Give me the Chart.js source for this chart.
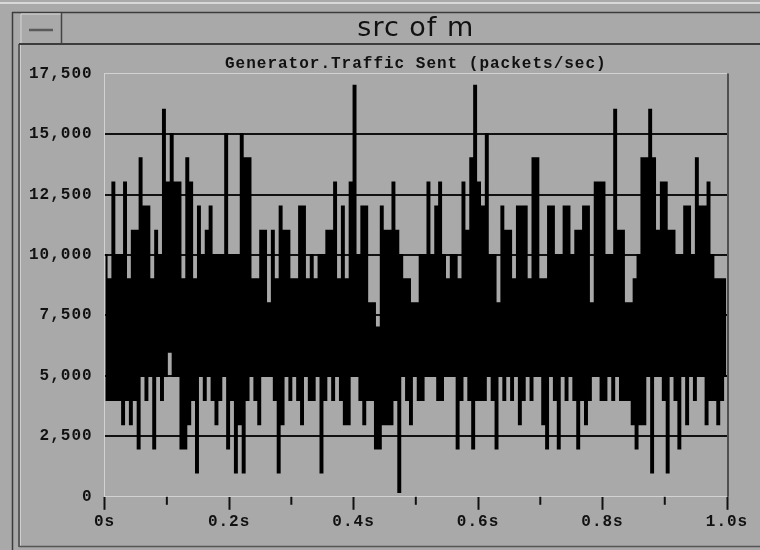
<!DOCTYPE html>
<html>
<head>
<meta charset="utf-8">
<title>src of m</title>
<script src="https://cdn.jsdelivr.net/npm/chart.js@4.4.1/dist/chart.umd.min.js"></script>
<style>
  html, body { margin: 0; padding: 0; background: #a9a9a9; }
  #wrap { width: 760px; height: 550px; }
</style>
</head>
<body>
<div id="wrap"><canvas id="trafficChart" width="760" height="550"></canvas></div>
<script>
// Generator.Traffic Sent, packets/sec
// the trace is split in 160 slots of 1/160 s: each slot has a peak then a trough
const slotSec = 1 / 160;

const highs = [
  10000, 9000, 13000, 10000, 10000, 13000, 9000, 11000, 11000, 14000,
  12000, 12000, 9000, 11000, 10000, 16000, 13000, 15000, 13000, 13000,
  9000, 14000, 13000, 9000, 12000, 10000, 11000, 12000, 10000, 10000,
  10000, 15000, 10000, 10000, 10000, 15000, 14000, 14000, 9000, 9000,
  11000, 11000, 8000, 11000, 9000, 12000, 11000, 11000, 9000, 9000,
  12000, 12000, 9000, 10000, 9000, 10000, 10000, 11000, 11000, 13000,
  9000, 12000, 9000, 13000, 17000, 10000, 12000, 12000, 8000, 8000,
  7000, 12000, 11000, 11000, 13000, 11000, 10000, 9000, 9000, 8000,
  8000, 10000, 10000, 13000, 10000, 12000, 13000, 10000, 9000, 10000,
  10000, 9000, 13000, 11000, 14000, 17000, 13000, 12000, 15000, 10000,
  10000, 8000, 12000, 11000, 11000, 9000, 12000, 12000, 12000, 9000,
  14000, 14000, 9000, 9000, 12000, 12000, 10000, 10000, 12000, 12000,
  10000, 11000, 11000, 12000, 12000, 8000, 13000, 13000, 13000, 10000,
  10000, 16000, 11000, 11000, 8000, 8000, 9000, 10000, 14000, 14000,
  16000, 14000, 11000, 13000, 13000, 11000, 11000, 10000, 10000, 12000,
  12000, 10000, 14000, 12000, 12000, 13000, 10000, 9000, 9000, 9000
];

const lows = [
  4000, 4000, 4000, 4000, 3000, 4000, 3000, 4000, 2000, 5000,
  4000, 5000, 2000, 5000, 4000, 5000, 6000, 5000, 5000, 2000,
  2000, 3000, 4000, 1000, 5000, 4000, 5000, 4000, 3000, 4000,
  5000, 2000, 4000, 1000, 3000, 1000, 4000, 5000, 4000, 3000,
  5000, 5000, 5000, 4000, 1000, 3000, 5000, 4000, 5000, 4000,
  3000, 5000, 4000, 4000, 5000, 1000, 4000, 5000, 4000, 5000,
  4000, 3000, 3000, 5000, 5000, 4000, 3000, 4000, 4000, 2000,
  2000, 3000, 3000, 3000, 4000, 200, 5000, 4000, 3000, 5000,
  4000, 4000, 5000, 5000, 5000, 4000, 4000, 5000, 5000, 5000,
  2000, 4000, 5000, 4000, 2000, 4000, 4000, 4000, 5000, 4000,
  2000, 5000, 4000, 5000, 4000, 5000, 3000, 4000, 5000, 4000,
  5000, 5000, 3000, 2000, 5000, 4000, 2000, 5000, 4000, 5000,
  4000, 2000, 4000, 3000, 4000, 5000, 5000, 4000, 4000, 5000,
  4000, 5000, 4000, 4000, 4000, 3000, 2000, 3000, 3000, 5000,
  1000, 5000, 5000, 4000, 1000, 5000, 4000, 2000, 5000, 3000,
  5000, 4000, 5000, 5000, 3000, 4000, 4000, 3000, 4000, 5000
];

const yTicks = [0, 2500, 5000, 7500, 10000, 12500, 15000, 17500];
const xMajorTicks = [0, 0.2, 0.4, 0.6, 0.8, 1.0];
const xMinorTicks = [0.1, 0.3, 0.5, 0.7, 0.9];

const points = [];
highs.forEach(function(h, k) {
    points.push({x: k * slotSec, y: h});
    points.push({x: (k + 0.5) * slotSec, y: lows[k]});
});
points.push({x: 1, y: lows[lows.length - 1]});

const INK = '#111';
const LIGHT = '#d2d2d2';

// canvas letter spacing, the old X font is wide
const spacing = {
    id: 'spacing',
    beforeLayout(chart) { chart.ctx.letterSpacing = '1px'; },
    beforeDraw(chart) { chart.ctx.letterSpacing = '1px'; }
};

function line(ctx, x1, y1, x2, y2, color, w) {
    ctx.strokeStyle = color;
    ctx.lineWidth = w;
    ctx.beginPath();
    ctx.moveTo(x1, y1);
    ctx.lineTo(x2, y2);
    ctx.stroke();
}

// window frame, title bar and the little menu button
const frame = {
    id: 'frame',
    beforeDraw(chart) {
        const ctx = chart.ctx;
        const w = chart.width, h = chart.height;
        ctx.save();
        ctx.fillStyle = '#a9a9a9';
        ctx.fillRect(0, 0, w, h);
        line(ctx, 0, 3, w, 3, '#d8d8d8', 2);
        line(ctx, 12, 12.5, w, 12.5, '#3c3c3c', 1.5);
        line(ctx, 12.5, 12, 12.5, h, '#3c3c3c', 1.5);
        line(ctx, 19, 44, 19, 547, '#444', 1.5);
        line(ctx, 20.5, 44, 20.5, 547, '#cfcfcf', 1);
        // button
        line(ctx, 21, 14, 61, 14, '#d6d6d6', 1);
        line(ctx, 21, 14, 21, 43, '#d6d6d6', 1);
        line(ctx, 61.5, 13, 61.5, 44, '#444', 1.5);
        line(ctx, 29, 30, 53, 30, '#5a5a5a', 2.5);
        line(ctx, 19, 44, w, 44, '#3c3c3c', 2);
        line(ctx, 19, 546.5, w, 546.5, '#555', 1.5);
        ctx.restore();
    },
    afterDraw(chart) {
        const ctx = chart.ctx;
        const a = chart.chartArea;
        const xs = chart.scales.x;
        ctx.save();
        line(ctx, a.right + 1, a.top, a.right + 1, a.bottom, '#333', 1.5);
        xMinorTicks.forEach(function(v) {
            const px = xs.getPixelForValue(v);
            line(ctx, px, a.bottom, px, a.bottom + 8, INK, 2);
        });
        ctx.restore();
    }
};

new Chart(document.getElementById('trafficChart'), {
    type: 'line',
    data: {
        datasets: [{
            label: 'Traffic Sent (packets/sec)',
            data: points,
            borderColor: '#000',
            borderWidth: 2,
            pointRadius: 0,
            stepped: true,
            fill: false
        }]
    },
    options: {
        responsive: false,
        animation: false,
        layout: { padding: { top: 0, left: 17, right: 33, bottom: 15 } },
        plugins: {
            legend: { display: false },
            tooltip: { enabled: false },
            title: {
                display: true,
                text: 'src of m',
                fullSize: false,
                color: INK,
                font: { family: 'DejaVu Sans', size: 27, weight: 'normal' },
                padding: { top: 13, bottom: 0 }
            },
            subtitle: {
                display: true,
                text: 'Generator.Traffic Sent (packets/sec)',
                fullSize: false,
                color: INK,
                font: { family: 'Liberation Mono', size: 16, weight: 'bold' },
                padding: { top: 9, bottom: 0 }
            }
        },
        scales: {
            x: {
                type: 'linear',
                min: 0,
                max: 1,
                afterBuildTicks: function(s) { s.ticks = xMajorTicks.map(v => ({value: v})); },
                ticks: {
                    color: INK,
                    maxRotation: 0,
                    autoSkip: false,
                    padding: 3,
                    font: { family: 'Liberation Mono', size: 16, weight: 'bold' },
                    callback: v => (v === 0 ? '0s' : v.toFixed(1) + 's')
                },
                grid: {
                    drawOnChartArea: false,
                    drawTicks: true,
                    tickLength: 13,
                    tickColor: INK,
                    tickWidth: 2
                },
                border: { display: false }
            },
            y: {
                min: 0,
                max: 17500,
                afterBuildTicks: function(s) { s.ticks = yTicks.map(v => ({value: v})); },
                ticks: {
                    color: INK,
                    padding: 12,
                    font: { family: 'Liberation Mono', size: 16, weight: 'bold' },
                    callback: v => v.toLocaleString('en-US')
                },
                grid: {
                    drawTicks: false,
                    color: c => (c.tick.value === 0 || c.tick.value === 17500) ? LIGHT : INK,
                    lineWidth: c => (c.tick.value === 0 || c.tick.value === 17500) ? 1 : 2
                },
                border: { display: true, color: LIGHT, width: 1 }
            }
        }
    },
    plugins: [spacing, frame]
});
</script>
</body>
</html>
